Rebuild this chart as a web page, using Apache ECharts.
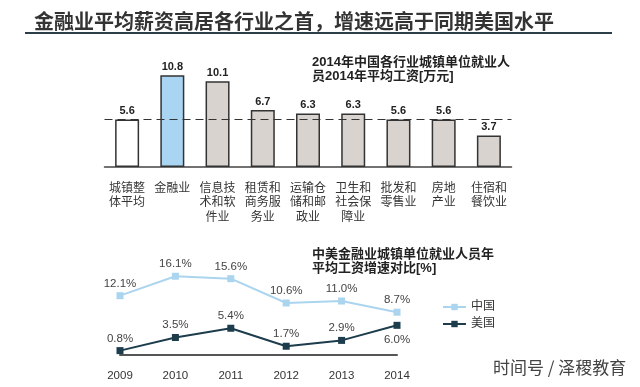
<!DOCTYPE html>
<html>
<head>
<meta charset="utf-8">
<script src="https://cdn.jsdelivr.net/npm/echarts@6/dist/echarts.min.js"></script>
<style>
html,body{margin:0;padding:0;background:#fff;}
#c{width:640px;height:387px;}
</style>
</head>
<body>
<div id="c"></div>
<script>
// ---- data ----
var barCategories = ['城镇整\n体平均', '金融业', '信息技\n术和软\n件业', '租赁和\n商务服\n务业', '运输仓\n储和邮\n政业', '卫生和\n社会保\n障业', '批发和\n零售业', '房地\n产业', '住宿和\n餐饮业'];
var barValues = [5.6, 10.8, 10.1, 6.7, 6.3, 6.3, 5.6, 5.6, 3.7];
var averageLine = 5.6;

var years = ['2009', '2010', '2011', '2012', '2013', '2014'];
var chinaGrowth = [12.1, 16.1, 15.6, 10.6, 11.0, 8.7];
var usGrowth = [0.8, 3.5, 5.4, 1.7, 2.9, 6.0];

var mainTitle = '金融业平均薪资高居各行业之首，增速远高于同期美国水平';
var barTitle = '2014年中国各行业城镇单位就业人\n员2014年平均工资[万元]';
var lineTitle = '中美金融业城镇单位就业人员年\n平均工资增速对比[%]';
var watermark = '时间号 / 泽稷教育';

// ---- chart ----
var FONT = "'Liberation Sans', Arial, 'Noto Sans CJK SC', sans-serif";
var chart = echarts.init(document.getElementById('c'), null, {renderer: 'canvas'});

function barColor(i) {
  if (i === 0) return '#ffffff';
  if (i === 1) return '#a9d4f2';
  return '#d9d3cf';
}

var barData = barValues.map(function (v, i) {
  return {value: v, itemStyle: {color: barColor(i)}};
});

var usData = usGrowth.map(function (v, i) {
  if (i === usGrowth.length - 1) {
    return {value: v, label: {position: 'bottom', distance: 5}};
  }
  return v;
});

var option = {
  animation: false,
  backgroundColor: '#ffffff',
  textStyle: {fontFamily: FONT},
  title: [
    {text: mainTitle, left: 29, top: 5,
     textStyle: {fontSize: 20, fontWeight: 'bold', color: '#333', fontFamily: "'Noto Sans CJK SC', sans-serif", lineHeight: 22}},
    {text: barTitle, left: 307, top: 50,
     textStyle: {fontSize: 13, fontWeight: 'bold', color: '#222', fontFamily: FONT, lineHeight: 14}},
    {text: lineTitle, left: 307, top: 243,
     textStyle: {fontSize: 13, fontWeight: 'bold', color: '#222', fontFamily: FONT, lineHeight: 13.5}}
  ],
  graphic: [
    {type: 'line', shape: {x1: 25, y1: 33, x2: 612, y2: 33},
     style: {stroke: '#2c3e48', lineWidth: 2}},
    {type: 'text', left: 493, top: 359,
     style: {text: watermark, fontSize: 17, fill: '#444', fontFamily: "'Noto Sans CJK SC', sans-serif"}}
  ],
  legend: {
    data: ['中国', '美国'],
    orient: 'vertical',
    left: 437, top: 296,
    itemWidth: 23, itemHeight: 8, itemGap: 5,
    textStyle: {fontSize: 12, color: '#333', fontFamily: FONT}
  },
  grid: [
    {left: 104.5, top: 65, width: 407, height: 102},
    {left: 120, top: 267, width: 277, height: 87.5}
  ],
  xAxis: [
    {type: 'category', gridIndex: 0, data: barCategories,
     axisLine: {lineStyle: {color: '#444', width: 1.5}},
     axisTick: {show: false},
     axisLabel: {margin: 13, fontSize: 12, color: '#333', lineHeight: 14.5, interval: 0,
                 fontFamily: "'Noto Sans CJK SC', sans-serif"}},
    {type: 'category', gridIndex: 1, data: years, boundaryGap: false,
     axisLine: {lineStyle: {color: '#555', width: 2}},
     axisTick: {show: false},
     axisLabel: {margin: 16, fontSize: 11.5, color: '#333'}}
  ],
  yAxis: [
    {type: 'value', gridIndex: 0, min: 0, max: 12, show: false},
    {type: 'value', gridIndex: 1, min: 0, max: 18, show: false}
  ],
  series: [
    {type: 'bar', xAxisIndex: 0, yAxisIndex: 0, data: barData, barWidth: 24,
     itemStyle: {borderColor: '#333', borderWidth: 1.5},
     label: {show: true, position: 'top', distance: 3, fontSize: 11, fontWeight: 'bold', color: '#222'},
     markLine: {silent: true, symbol: ['none', 'none'], label: {show: false},
                lineStyle: {color: '#333', type: [8, 5], width: 1.2},
                data: [{yAxis: averageLine}]}},
    {name: '中国', type: 'line', xAxisIndex: 1, yAxisIndex: 1, data: chinaGrowth,
     symbol: 'rect', symbolSize: 7,
     lineStyle: {color: '#abd5ef', width: 2}, itemStyle: {color: '#abd5ef'},
     label: {show: true, position: 'top', distance: 3, fontSize: 11.5, color: '#444',
             formatter: function (p) { return p.value.toFixed(1) + '%'; }}},
    {name: '美国', type: 'line', xAxisIndex: 1, yAxisIndex: 1, data: usData,
     symbol: 'rect', symbolSize: 7,
     lineStyle: {color: '#1d3d4d', width: 2}, itemStyle: {color: '#1d3d4d'},
     label: {show: true, position: 'top', distance: 3, fontSize: 11.5, color: '#444',
             formatter: function (p) { return (typeof p.value === 'number' ? p.value : p.data.value).toFixed(1) + '%'; }}}
  ]
};
chart.setOption(option);
</script>
</body>
</html>
